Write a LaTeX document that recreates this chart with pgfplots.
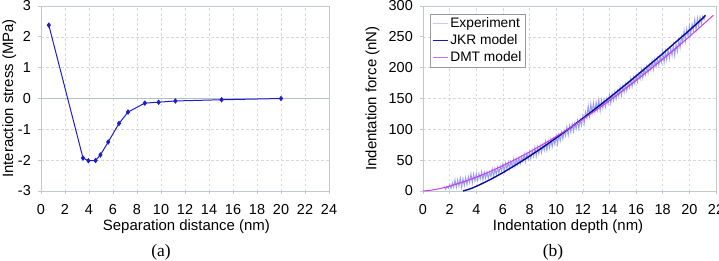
\documentclass[border=0pt]{standalone}
\usepackage{fontspec}
\setmainfont{Liberation Sans}
\newfontfamily\seriffont{Liberation Serif}
\usepackage{pgfplots}
\pgfplotsset{compat=1.18}
\makeatletter
\renewcommand\normalsize{\@setfontsize\normalsize{13.8}{16.5}}
\makeatother
\definecolor{framegray}{RGB}{192,200,208}
\definecolor{gridgray}{RGB}{215,215,215}
\definecolor{zerogray}{RGB}{180,192,200}
\definecolor{lineA}{RGB}{30,30,200}
\definecolor{jkr}{RGB}{10,10,150}
\definecolor{dmt}{RGB}{200,60,230}
\definecolor{expcol}{RGB}{150,156,242}
\definecolor{legexp}{RGB}{200,205,245}
\definecolor{legjkr}{RGB}{20,20,200}
\definecolor{legdmt}{RGB}{200,110,240}
\pgfplotsset{base/.style={
  scale only axis,
  axis line style={framegray, line width=0.8pt},
  tick style={framegray, line width=0.8pt},
  tick align=outside, major tick length=3bp,
  xtick pos=bottom, ytick pos=left,
  grid=major,
  major grid style={gridgray, dash pattern=on 2.5bp off 2.5bp, line width=0.6pt},
  ticklabel style={font=\fontsize{14.5}{16}\selectfont},
  yticklabel style={anchor=east, inner sep=0pt, xshift=-7bp},
  xticklabel style={anchor=north, inner sep=0pt, yshift=-10bp},
  /pgf/number format/assume math mode=true,
  label style={font=\fontsize{15}{17}\selectfont},
  height=185bp,
}}
\pgfplotstableread{
x y
1.6 7
1.7 2.7
1.8 7.7
1.9 4.3
2.0 10.8
2.1 4.2
2.2 13
2.3 6
2.4 18
2.5 5.6
2.6 17.9
2.7 7.8
2.8 20.9
2.9 6.1
3.0 20
3.1 9
3.2 22
3.3 10.2
3.4 23.2
3.5 13.8
3.6 27.6
3.7 13.2
3.8 27.5
3.9 16.3
4.0 28
4.1 17.2
4.2 28.1
4.3 19.4
4.4 31
4.5 18.1
4.6 30.4
4.7 20.3
4.8 31.2
4.9 20.4
5.0 31.3
5.1 23.3
5.2 35.6
5.3 23.4
5.4 36.4
5.5 27
5.6 38.6
5.7 28.5
5.8 40.1
5.9 32.1
6.0 44.4
6.1 32
6.2 44.8
6.3 35.2
6.4 46.6
6.5 36.3
6.6 47.7
6.7 39.5
6.8 51.6
6.9 39.2
7.0 52
7.1 42.6
7.2 54.2
7.3 44.1
7.4 55.7
7.5 47.7
7.6 60
7.7 47.8
7.8 60.8
7.9 51.4
8.0 64
8.1 52.4
8.2 65.6
8.3 56.4
8.4 70.4
8.5 56.4
8.6 71.2
8.7 60.4
8.8 73.6
8.9 62
9.0 75.2
9.1 66
9.2 80
9.3 66
9.4 80.8
9.5 70
9.6 83.2
9.7 71.6
9.8 84.8
9.9 75.6
10.0 89.6
10.1 76.2
10.2 91.6
10.3 81.4
10.4 95.2
10.5 84.2
10.6 98
10.7 89.4
10.8 104
10.9 90.6
11.0 106
11.1 95.2
11.2 108.3
11.3 96.7
11.4 109.9
11.5 100.7
11.6 114.6
11.7 101.2
11.8 116.5
11.9 106.3
12.0 122
12.1 109.5
12.2 128
12.3 118.5
12.4 138
12.5 121.5
12.6 141
12.7 127
12.8 143
12.9 128
13.0 144
13.1 131.5
13.2 148
13.3 129.8
13.4 147.5
13.5 134.6
13.6 147.6
13.7 136.4
13.8 150
13.9 141.2
14.0 155.6
14.1 142
14.2 157.2
14.3 146.8
14.4 160.4
14.5 149.2
14.6 162.8
14.7 154
14.8 168.4
14.9 154.8
15.0 170
15.1 159.8
15.2 173.6
15.3 162.6
15.4 176.4
15.5 167.8
15.6 182.4
15.7 169
15.8 184.4
15.9 174.2
16.0 188
16.1 177
16.2 190.8
16.3 182.2
16.4 196.8
16.5 183.4
16.6 198.8
16.7 188.6
16.8 202.4
16.9 191.4
17.0 205.2
17.1 196.4
17.2 210.8
17.3 197.2
17.4 212.4
17.5 202
17.6 215.6
17.7 204.4
17.8 218
17.9 209.2
18.0 226
18.1 208.4
18.2 226.8
18.3 213.2
18.4 229.6
18.5 215
18.6 231.4
18.7 219.8
18.8 237.2
18.9 219.6
19.0 238
19.1 226.4
19.2 244.8
19.3 232.2
19.4 250.6
19.5 240.6
19.6 259.6
19.7 243.2
19.8 262.8
19.9 250.4
20.0 268
20.1 254
20.2 271
20.3 260
20.4 278
20.5 261
20.6 280
20.7 267
20.8 282
20.9 271.2
21.0 283.4
21.1 278
21.2 286
}\exptable
\begin{document}
\normalsize
\begin{tikzpicture}[x=1bp,y=1bp]
\path[use as bounding box] (0,0) rectangle (719,260);
% ---------- (a)
\begin{axis}[base, at={(41bp,69bp)}, anchor=south west, width=288bp,
  xmin=0, xmax=24, ymin=-3, ymax=3,
  xtick={0,2,...,24}, ytick={-3,-2,...,3},
  xlabel={Separation distance (nm)}, ylabel={Interaction stress (MPa)},
  x label style={at={(axis description cs:0.505,-0.195)}, anchor=center},
  y label style={at={(axis description cs:-0.11,0.5)}, anchor=center},
  clip=false]
\addplot[zerogray, line width=0.8pt, forget plot] coordinates {(0,0) (24,0)};
\addplot[lineA, line width=1pt, mark=diamond*, mark size=2bp, mark options={solid}] coordinates {
(0.65,2.38) (3.5,-1.93) (3.95,-2.02) (4.55,-2.01) (4.95,-1.83) (5.6,-1.41)
(6.5,-0.81) (7.25,-0.44) (8.65,-0.15) (9.8,-0.12) (11.2,-0.08) (15.05,-0.04) (20,0.0)};
\node[font=\seriffont\fontsize{17.5}{19}\selectfont] at (axis description cs:0.417,-0.33) {(a)};
\end{axis}
% ---------- (b)
\begin{axis}[base, at={(423bp,69bp)}, anchor=south west, width=293bp,
  xmin=0, xmax=22, ymin=0, ymax=300,
  xtick={0,2,...,22}, ytick={0,50,...,300},
  xlabel={Indentation depth (nm)}, ylabel={Indentation force (nN)},
  x label style={at={(axis description cs:0.495,-0.195)}, anchor=center},
  y label style={at={(axis description cs:-0.172,0.5)}, anchor=center},
  legend style={at={(axis description cs:0.024,0.957)}, anchor=north west,
    draw=gray!80, fill=white, font=\normalsize,
    inner sep=1.5bp, row sep=1bp},
  legend cell align=left,
  legend image code/.code={\draw[#1, line width=1.6pt] (0bp,0bp) -- (15bp,0bp);},
  clip=false]
\addplot[expcol, line width=0.95pt, forget plot] table[x=x, y=y] {\exptable};
\addplot[jkr, line width=1.4pt, smooth, forget plot] coordinates {
(3.0,0) (3.5,3.2) (4,7.6) (5,18.0) (6,29.8) (7,42.8) (8,56.5) (9,71.0) (10,86.1)
(11,101.7) (12,117.9) (13,134.4) (14,151.4) (15,168.8) (16,186.5) (17,204.6)
(18,222.9) (19,241.9) (20,260.6) (21,280.2) (21.2,285)};
\addplot[dmt, line width=1pt, smooth, forget plot] coordinates {
(0,0) (0.5,1.0) (1,2.8) (1.5,5.1) (2,7.9) (3,14.5) (4,22.4) (5,31.3) (6,41.2) (7,51.9)
(8,63.4) (9,75.6) (10,88.5) (11,102.1) (12,116.4) (13,131.2) (14,146.7) (15,162.7)
(16,179.2) (17,196.3) (18,213.8) (19,231.9) (20,250.4) (21,269.5) (21.8,285.0)};
\addlegendimage{legexp}
\addlegendentry{Experiment}
\addlegendimage{legjkr}
\addlegendentry{JKR model}
\addlegendimage{legdmt}
\addlegendentry{DMT model}
\node[font=\seriffont\fontsize{17.5}{19}\selectfont] at (axis description cs:0.444,-0.33) {(b)};
\end{axis}
\end{tikzpicture}
\end{document}
